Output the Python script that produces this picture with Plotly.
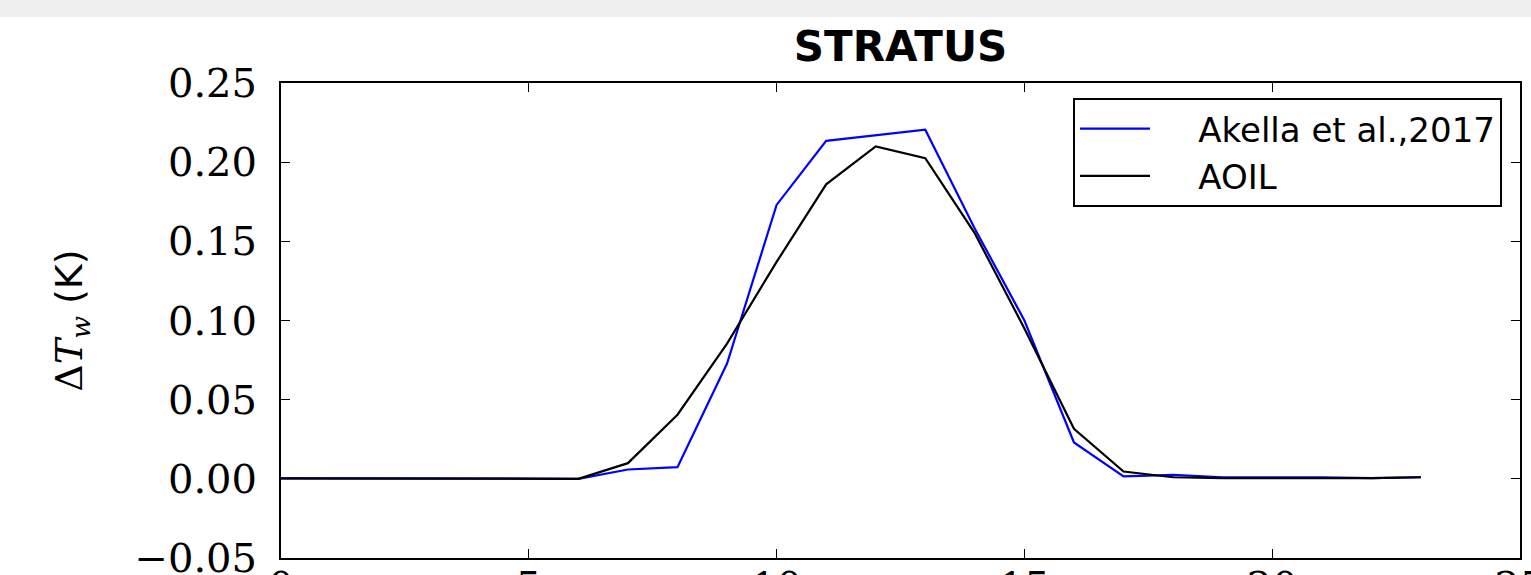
import plotly.graph_objects as go

x_vals = list(range(24))
akella = [0.0003, 0.0002, 0.0001, 0.0001, 0.0001, 0.0001, 0.0, 0.0059, 0.0074, 0.0728,
          0.173, 0.2135, 0.2170, 0.2205, 0.158, 0.100, 0.023, 0.0015, 0.0025, 0.001,
          0.001, 0.001, 0.0005, 0.001]
aoil = [0.0003, 0.0002, 0.0001, 0.0001, 0.0001, 0.0001, 0.0, 0.0099, 0.0405, 0.0854,
        0.137, 0.186, 0.2099, 0.2025, 0.155, 0.095, 0.0316, 0.0046, 0.001, 0.0005,
        0.0005, 0.0005, 0.0005, 0.001]
series_names = ["Akella et al.,2017", "AOIL"]
x_ticks = [0, 5, 10, 15, 20, 25]
y_ticks = [-0.05, 0.0, 0.05, 0.10, 0.15, 0.20, 0.25]
y_labels = ["−0.05", "0.00", "0.05", "0.10", "0.15", "0.20", "0.25"]

W, H = 1531, 575
L, R, T, B = 281, 11, 83, 17
gap = "\u00a0" * 4

fig = go.Figure()
fig.add_trace(go.Scatter(x=x_vals, y=akella, mode="lines", name=gap + series_names[0],
                         line=dict(color="#0000ff", width=2.2)))
fig.add_trace(go.Scatter(x=x_vals, y=aoil, mode="lines", name=gap + series_names[1],
                         line=dict(color="#000000", width=2.2)))

axis_common = dict(showline=True, linecolor="black", linewidth=2, mirror="ticks",
                   ticks="inside", ticklen=9, tickwidth=1.3, tickcolor="black",
                   showgrid=False, zeroline=False, ticklabeloverflow="allow",
                   tickfont=dict(family="DejaVu Serif", size=40, color="black"))

fig.update_layout(
    width=W, height=H,
    margin=dict(l=L, r=R, t=T, b=B, autoexpand=False),
    paper_bgcolor="white", plot_bgcolor="white",
    title=dict(text="<b>STRATUS</b>", x=(L + (W - R)) / 2 / W, xanchor="center",
               y=1 - 46 / H, yanchor="middle", yref="container",
               font=dict(family="DejaVu Sans", size=42, color="black")),
    xaxis=dict(range=[0, 25], tickvals=x_ticks, ticktext=[str(v) for v in x_ticks],
               automargin=False, ticklabelstandoff=-8, **axis_common),
    yaxis=dict(range=[-0.05, 0.25], tickvals=y_ticks, ticktext=y_labels,
               automargin=False, ticklabelstandoff=14,
               title=dict(text="Δ<i>T</i><sub><i>w</i></sub> <span style='font-family:DejaVu Sans'>(K)</span>",
                          font=dict(family="DejaVu Serif", size=38, color="black"),
                          standoff=40),
               **axis_common),
    legend=dict(x=(1502 - L) / (W - L - R), y=1 - (98 - T) / (H - T - B),
                xanchor="right", yanchor="top",
                bordercolor="black", borderwidth=2, bgcolor="white",
                font=dict(family="DejaVu Sans", size=34, color="black"),
                itemwidth=70, tracegroupgap=0),
    showlegend=True,
)

# grey band at the very top of the page
fig.add_shape(type="rect", xref="paper", yref="paper",
              x0=-L / (W - L - R), x1=(W - L) / (W - L - R),
              y0=1 + (T - 17) / (H - T - B), y1=1 + T / (H - T - B),
              fillcolor="#f0f0f0", line=dict(width=0), layer="below")

fig.write_html("out.html")
